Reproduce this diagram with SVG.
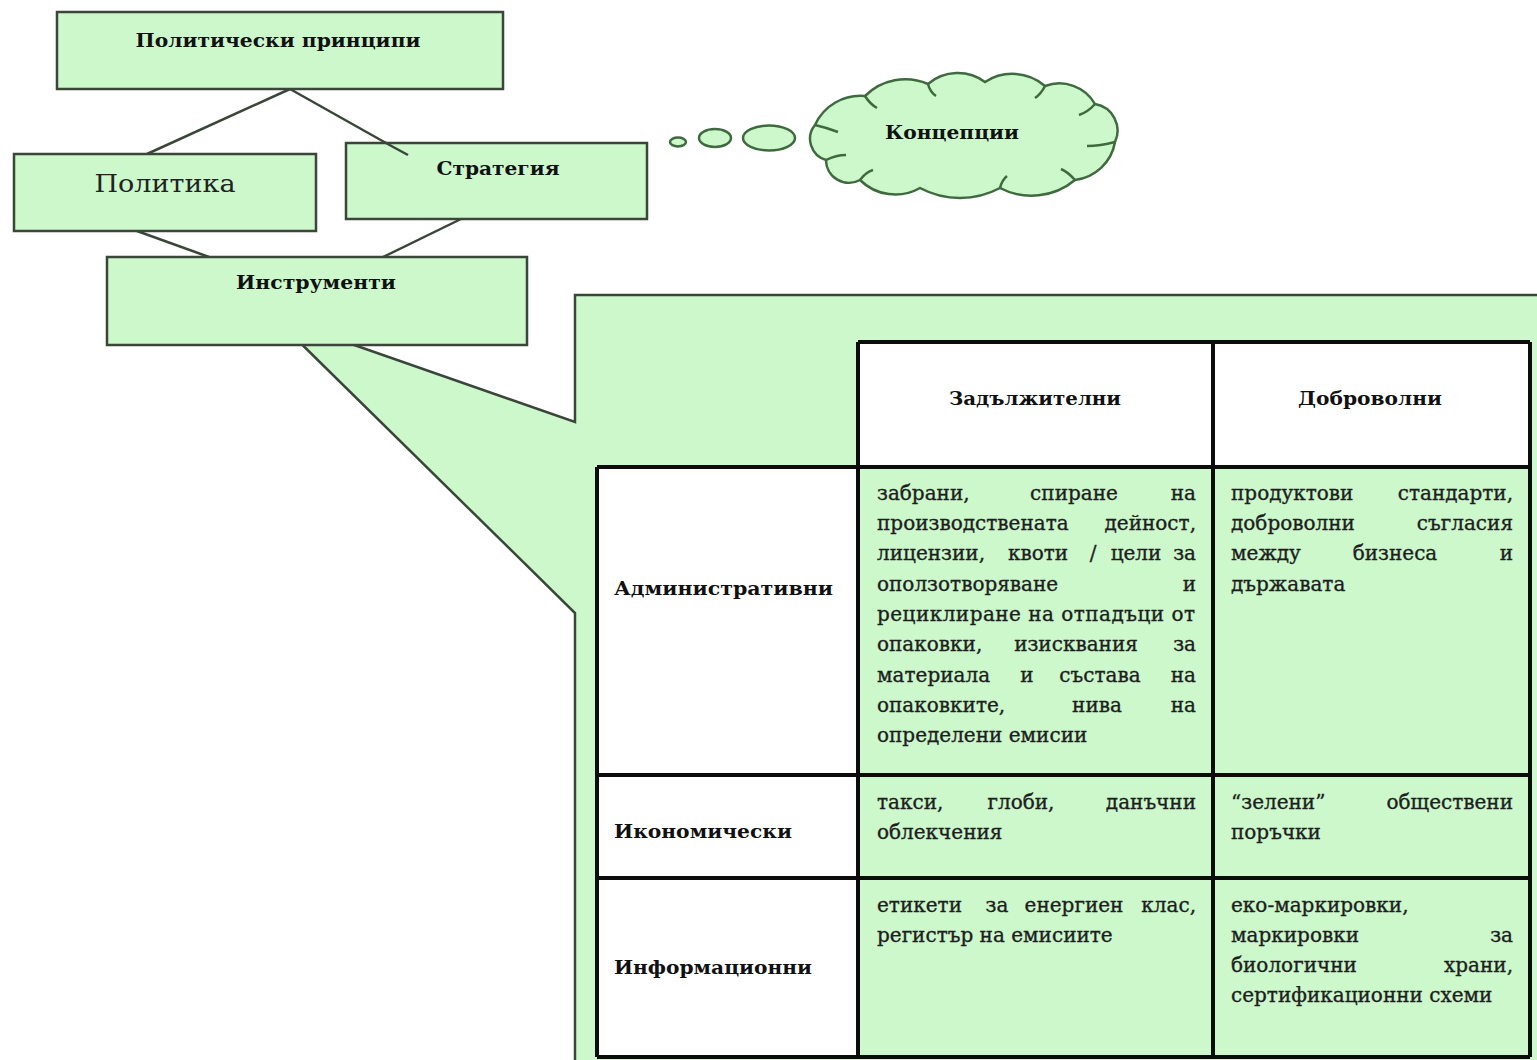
<svg xmlns="http://www.w3.org/2000/svg" width="1537" height="1060" viewBox="0 0 1537 1060">
<style>
.box{fill:#ccf8cc;stroke:#3a463a;stroke-width:2.5}
.conn{stroke:#3a463a;stroke-width:2.5;fill:none}
.cloud{fill:#ccf8cc;stroke:#3f6a3f;stroke-width:2.5}
.hook{fill:none;stroke:#3f6a3f;stroke-width:2.5}
.lbl{font-family:"DejaVu Serif","Liberation Serif",serif;font-weight:bold;font-size:19px;fill:#111}
.txt{font-family:"DejaVu Serif","Liberation Serif",serif;font-size:20px;fill:#1e1e1e;stroke:#1e1e1e;stroke-width:0.35}
.cell{fill:#ccf8cc}
.wcell{fill:#ffffff}
.grid{stroke:#0c0c0c;stroke-width:4;fill:none}
</style>
<rect width="1537" height="1060" fill="#ffffff"/>

<g id="callout">
<path class="box" d="M575,295 H1545 V1065 H575 V613 L274,317 L575,422 Z"/>
</g>

<g id="connectors">
<line class="conn" x1="290" y1="89" x2="147" y2="154"/>
<line class="conn" x1="290" y1="89" x2="386" y2="143"/>
<line class="conn" x1="137" y1="231" x2="209" y2="257"/>
<line class="conn" x1="461" y1="219" x2="383" y2="257"/>
</g>

<g id="node-principles">
<rect class="box" x="57" y="12" width="446" height="77"/>
<text class="lbl" x="278" y="47" text-anchor="middle" textLength="285" lengthAdjust="spacingAndGlyphs">Политически принципи</text>
</g>

<g id="node-policy">
<rect class="box" x="14" y="154" width="302" height="77"/>
<text x="165" y="192" text-anchor="middle" font-family="DejaVu Serif, Liberation Serif, serif" font-size="25" fill="#222" textLength="141" lengthAdjust="spacingAndGlyphs">Политика</text>
</g>

<g id="node-strategy">
<rect class="box" x="346" y="143" width="301" height="76"/>
<line class="conn" x1="384" y1="142" x2="408" y2="155"/>
<text class="lbl" x="498" y="175" text-anchor="middle" textLength="123" lengthAdjust="spacingAndGlyphs">Стратегия</text>
</g>

<g id="node-instruments">
<rect class="box" x="107" y="257" width="420" height="88"/>
<text class="lbl" x="316" y="289" text-anchor="middle" textLength="160" lengthAdjust="spacingAndGlyphs">Инструменти</text>
</g>

<g id="node-concepts">
<ellipse class="cloud" cx="678" cy="142" rx="8" ry="4.5"/>
<ellipse class="cloud" cx="715" cy="138" rx="16" ry="9"/>
<ellipse class="cloud" cx="769" cy="138" rx="26" ry="12.5"/>
<path class="cloud" d="M826,160 A22 22 0 0 1 815,125 A50 50 0 0 1 865,96 A57 57 0 0 1 928,84 A46 46 0 0 1 985,82 A50 50 0 0 1 1045,86 A41 41 0 0 1 1095,104 A27 27 0 0 1 1115,142 A46 46 0 0 1 1075,180 A68 68 0 0 1 1000,188 A85 85 0 0 1 920,188 A50 50 0 0 1 860,180 A23 23 0 0 1 826,160 Z"/>
<path class="hook" d="M815,125 Q828,128 838,132 M865,96 Q870,104 877,108 M928,84 Q930,92 936,96 M1045,86 Q1041,94 1035,98 M1095,104 Q1088,112 1079,115 M1115,142 Q1100,146 1087,146 M1075,180 Q1068,172 1061,169 M1000,188 Q1002,180 1007,176 M860,180 Q866,172 873,170 M826,160 Q836,155 846,155"/>
<text class="lbl" x="952" y="139" text-anchor="middle" textLength="134" lengthAdjust="spacingAndGlyphs">Концепции</text>
</g>

<g id="table">
<rect class="wcell" x="858" y="342" width="672" height="125"/>
<rect class="wcell" x="597" y="467" width="261" height="590"/>
<rect class="cell" x="858" y="467" width="672" height="590"/>
<path class="grid" d="M858,342 H1530 M597,467 H1530 M597,775 H1530 M597,878 H1530 M597,1057 H1530 M597,467 V1057 M858,342 V1057 M1213,342 V1057 M1530,342 V1057"/>

<text class="lbl" x="1035" y="405" text-anchor="middle" textLength="172" lengthAdjust="spacingAndGlyphs">Задължителни</text>
<text class="lbl" x="1370" y="405" text-anchor="middle" textLength="144" lengthAdjust="spacingAndGlyphs">Доброволни</text>
<text class="lbl" x="614" y="595" textLength="219" lengthAdjust="spacingAndGlyphs">Административни</text>
<text class="lbl" x="614" y="838" textLength="178" lengthAdjust="spacingAndGlyphs">Икономически</text>
<text class="lbl" x="614" y="974" textLength="198" lengthAdjust="spacingAndGlyphs">Информационни</text>

<g class="txt">
<text x="877" y="500">забрани,</text>
<text x="1074" y="500" text-anchor="middle">спиране</text>
<text x="1196" y="500" text-anchor="end">на</text>
<text x="877" y="530">производствената</text>
<text x="1196" y="530" text-anchor="end">дейност,</text>
<text x="877" y="560">лицензии,</text>
<text x="1038" y="560" text-anchor="middle">квоти</text>
<text x="1093" y="560" text-anchor="middle">/</text>
<text x="1136" y="560" text-anchor="middle">цели</text>
<text x="1196" y="560" text-anchor="end">за</text>
<text x="877" y="591">оползотворяване</text>
<text x="1196" y="591" text-anchor="end">и</text>
<text x="877" y="621" textLength="318" lengthAdjust="spacing">рециклиране на отпадъци от</text>
<text x="877" y="651">опаковки,</text>
<text x="1076" y="651" text-anchor="middle">изисквания</text>
<text x="1196" y="651" text-anchor="end">за</text>
<text x="877" y="682">материала</text>
<text x="1027" y="682" text-anchor="middle">и</text>
<text x="1100" y="682" text-anchor="middle">състава</text>
<text x="1196" y="682" text-anchor="end">на</text>
<text x="877" y="712">опаковките,</text>
<text x="1097" y="712" text-anchor="middle">нива</text>
<text x="1196" y="712" text-anchor="end">на</text>
<text x="877" y="742">определени емисии</text>

<text x="1231" y="500">продуктови</text>
<text x="1513" y="500" text-anchor="end">стандарти,</text>
<text x="1231" y="530">доброволни</text>
<text x="1513" y="530" text-anchor="end">съгласия</text>
<text x="1231" y="560">между</text>
<text x="1395" y="560" text-anchor="middle">бизнеса</text>
<text x="1513" y="560" text-anchor="end">и</text>
<text x="1231" y="591">държавата</text>

<text x="877" y="809">такси,</text>
<text x="1021" y="809" text-anchor="middle">глоби,</text>
<text x="1196" y="809" text-anchor="end">данъчни</text>
<text x="877" y="839">облекчения</text>
<text x="1231" y="809">“зелени”</text>
<text x="1513" y="809" text-anchor="end">обществени</text>
<text x="1231" y="839">поръчки</text>

<text x="877" y="912">етикети</text>
<text x="997" y="912" text-anchor="middle">за</text>
<text x="1074" y="912" text-anchor="middle">енергиен</text>
<text x="1196" y="912" text-anchor="end">клас,</text>
<text x="877" y="942">регистър на емисиите</text>
<text x="1231" y="912">еко-маркировки,</text>
<text x="1231" y="942">маркировки</text>
<text x="1513" y="942" text-anchor="end">за</text>
<text x="1231" y="972">биологични</text>
<text x="1513" y="972" text-anchor="end">храни,</text>
<text x="1231" y="1002">сертификационни схеми</text>
</g>
</g>
</svg>
